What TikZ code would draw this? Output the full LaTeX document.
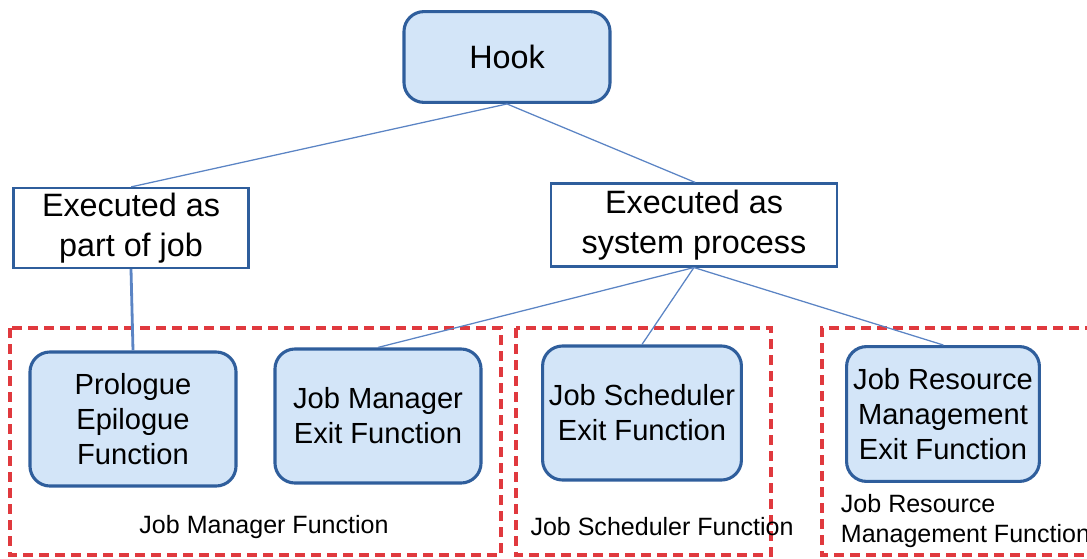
\documentclass[tikz,border=0pt]{standalone}
\usepackage{fontspec}
\setmainfont{Liberation Sans}
\usetikzlibrary{calc}
\definecolor{boxfill}{HTML}{D3E5F8}
\definecolor{boxline}{HTML}{2F5E9C}
\definecolor{wireblue}{HTML}{5B84C4}
\definecolor{groupred}{HTML}{E0393E}
\tikzset{
  hookbox/.style={draw=boxline, line width=2.2pt, fill=boxfill, rounded corners=0.5cm,
    align=center, font=\fontsize{23}{26}\selectfont, inner sep=0pt},
  exitbox/.style={hookbox, font=\fontsize{20.7}{24.8}\selectfont},
  kindbox/.style={draw=boxline, line width=1.6pt, fill=white,
    align=center, font=\fontsize{23}{28}\selectfont, inner sep=0pt},
  wire/.style={draw=wireblue, line width=0.9pt},
  groupbox/.style={draw=groupred, line width=2.2pt, dash pattern=on 0.25cm off 0.15cm},
  grouplabel/.style={font=\fontsize{17.8}{22}\selectfont}
}
\begin{document}
\begin{tikzpicture}[x=0.025cm, y=-0.025cm]
  \useasboundingbox (0,0) rectangle (1087,559);

  % group frames
  \draw[groupbox] (10,328) rectangle (501,555);
  \draw[groupbox] (516,328) rectangle (771,555);
  \draw[groupbox] (1095,328) -- (822,328) -- (822,555) -- (1095,555);

  % top and middle
  \node[hookbox, minimum width=5.15cm, minimum height=2.27cm] (hook) at (507,57) {Hook};
  \node[kindbox, minimum width=5.87cm, minimum height=2.0cm] (part) at (131,228) {Executed as\\part of job};
  \node[kindbox, minimum width=7.15cm, minimum height=2.07cm] (sys) at (694,225) {Executed as\\system process};

  % exit functions
  \node[exitbox, minimum width=5.15cm, minimum height=3.35cm] (prolog) at (133,419) {Prologue\\Epilogue\\Function};
  \node[exitbox, minimum width=5.15cm, minimum height=3.35cm] (jmexit) at (378,416) {Job Manager\\Exit Function};
  \node[exitbox, minimum width=4.97cm, minimum height=3.35cm] (jsexit) at (642,413) {Job Scheduler\\Exit Function};
  \node[exitbox, minimum width=4.82cm, minimum height=3.37cm] (jrexit) at (943,414) {Job Resource\\Management\\Exit Function};

  % group labels
  \node[grouplabel] (jmlabel) at (264,527) {Job Manager Function};
  \node[grouplabel] (jslabel) at (662,527) {Job Scheduler Function};
  \node[grouplabel, align=left, anchor=west] (jrlabel) at (836,521) {Job Resource\\Management Function};

  % connectors
  \draw[wire] (hook.south) -- ($(part.north)+(0.22,0)$);
  \draw[wire] (hook.south) -- ($(sys.north)+(1.28,0)$);
  \draw[wire, line width=2pt] (part.south) -- (prolog.north);
  \draw[wire] ($(sys.south)+(-0.1,0)$) -- (jmexit.north);
  \draw[wire] ($(sys.south)+(-0.1,0)$) -- (jsexit.north);
  \draw[wire] ($(sys.south)+(-0.1,0)$) -- ($(jrexit.north)+(0.35,0)$);
\end{tikzpicture}
\end{document}
